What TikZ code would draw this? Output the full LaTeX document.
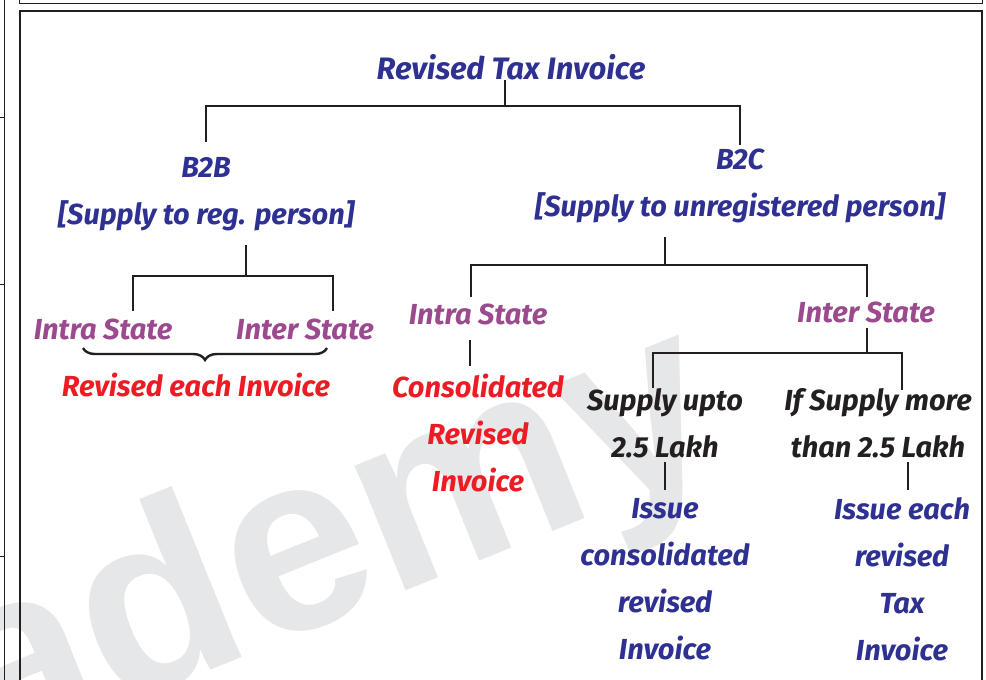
\documentclass[tikz,border=0pt]{standalone}
\usepackage{fontspec}
\setmainfont{Fira Sans}
\newfontfamily\wmfont{Liberation Sans}
\usetikzlibrary{decorations.pathreplacing}
\definecolor{tblue}{HTML}{2E3192}
\definecolor{tmag}{HTML}{9B4A8E}
\definecolor{tred}{HTML}{ED1C24}
\definecolor{tblk}{HTML}{231F20}
\definecolor{wm}{HTML}{E6E7E8}
\tikzset{
  conn/.style={draw=tblk, line width=2.6pt},
  frame/.style={draw=tblk, line width=2.2pt},
  thin/.style={draw=tblk, line width=0.9pt},
  lbl/.style={inner sep=0pt, align=center, font=\fontsize{29}{47}\selectfont\bfseries\itshape},
  bl/.style={lbl, text=tblue},
  mg/.style={lbl, text=tmag},
  rd/.style={lbl, text=tred},
  bk/.style={lbl, text=tblk},
}
\begin{document}
\begin{tikzpicture}[x=1pt,y=-1pt]
\useasboundingbox (0,0) rectangle (986,680);
\fill[white] (0,0) rectangle (986,680);
% watermark
\begin{scope}
\clip (0,0) rectangle (986,680);
\node[inner sep=0pt, rotate=22, text=wm, font=\wmfont\fontsize{255}{255}\selectfont\bfseries] (wmk) at (332,550) {ademy};
\end{scope}
% frames
\draw[thin] (19,-5) -- (19,3) -- (982,3) -- (982,-5);
\draw[frame] (20,690) -- (20,11) -- (982,11) -- (982,690);
\draw[thin] (4,-5) -- (4,690);
\draw[thin] (0,117) -- (4,117);
\draw[thin] (0,284) -- (4,284);
\draw[thin] (0,556) -- (4,556);
% texts
\node[bl, font=\fontsize{31}{47}\selectfont\bfseries\itshape] (title) at (511,67) {Revised Tax Invoice};
\node[bl] (b2b) at (206,194) {B2B\\{}[Supply to reg. person]};
\node[bl] (b2c) at (740,186) {B2C\\{}[Supply to unregistered person]};
\node[mg] (intraL) at (103,329) {Intra State};
\node[mg] (interL) at (305,329) {Inter State};
\node[rd] (revEach) at (196,385) {Revised each Invoice};
\node[mg] (intraR) at (478,314) {Intra State};
\node[mg] (interR) at (866,312) {Inter State};
\node[rd] (consol) at (478,433) {Consolidated\\Revised\\Invoice};
\node[bk] (upto) at (665,423) {Supply upto\\2.5 Lakh};
\node[bk] (more) at (878,423) {If Supply more\\than 2.5 Lakh};
\node[bl] (issueC) at (665,579) {Issue\\consolidated\\revised\\Invoice};
\node[bl] (issueE) at (902,579) {Issue each\\revised\\Tax\\Invoice};
% connector end points
\coordinate (tA) at (505,80);
\coordinate (tB) at (505,106);
\coordinate (b2bTop) at (206,142);
\coordinate (b2cTop) at (740,145);
\coordinate (b2bBot) at (246,245);
\coordinate (b2bJ) at (246,276);
\coordinate (intraLTop) at (133,311);
\coordinate (interLTop) at (333,311);
\coordinate (b2cBot) at (665,237);
\coordinate (b2cJ) at (665,265);
\coordinate (intraRTop) at (471,297);
\coordinate (interRTop) at (867,297);
\coordinate (intraRBot) at (470,340);
\coordinate (consolTop) at (470,366);
\coordinate (interRBot) at (867,328);
\coordinate (interRJ) at (867,353);
\coordinate (uptoTop) at (653,388);
\coordinate (moreTop) at (902,390);
\coordinate (uptoBot) at (665,462);
\coordinate (issueCTop) at (665,490);
\coordinate (moreBot) at (908,462);
\coordinate (issueETop) at (908,490);
% connectors
\draw[conn] (tA) -- (tB);
\draw[conn] (b2bTop) -- (b2bTop |- tB) -- (b2cTop |- tB) -- (b2cTop);
\draw[conn] (b2bBot) -- (b2bJ);
\draw[conn] (intraLTop) -- (intraLTop |- b2bJ) -- (interLTop |- b2bJ) -- (interLTop);
\draw[conn] (b2cBot) -- (b2cJ);
\draw[conn] (intraRTop) -- (intraRTop |- b2cJ) -- (interRTop |- b2cJ) -- (interRTop);
\draw[conn] (intraRBot) -- (consolTop);
\draw[conn] (interRBot) -- (interRJ);
\draw[conn] (uptoTop) -- (uptoTop |- interRJ) -- (moreTop |- interRJ) -- (moreTop);
\draw[conn] (uptoBot) -- (issueCTop);
\draw[conn] (moreBot) -- (issueETop);
% brace
\coordinate (brL) at (83,348);
\coordinate (brR) at (327,348);
\draw[draw=tblk, line width=2.4pt, decorate, decoration={brace, mirror, amplitude=12pt, raise=0pt}] (brL) -- (brR);
\end{tikzpicture}
\end{document}
